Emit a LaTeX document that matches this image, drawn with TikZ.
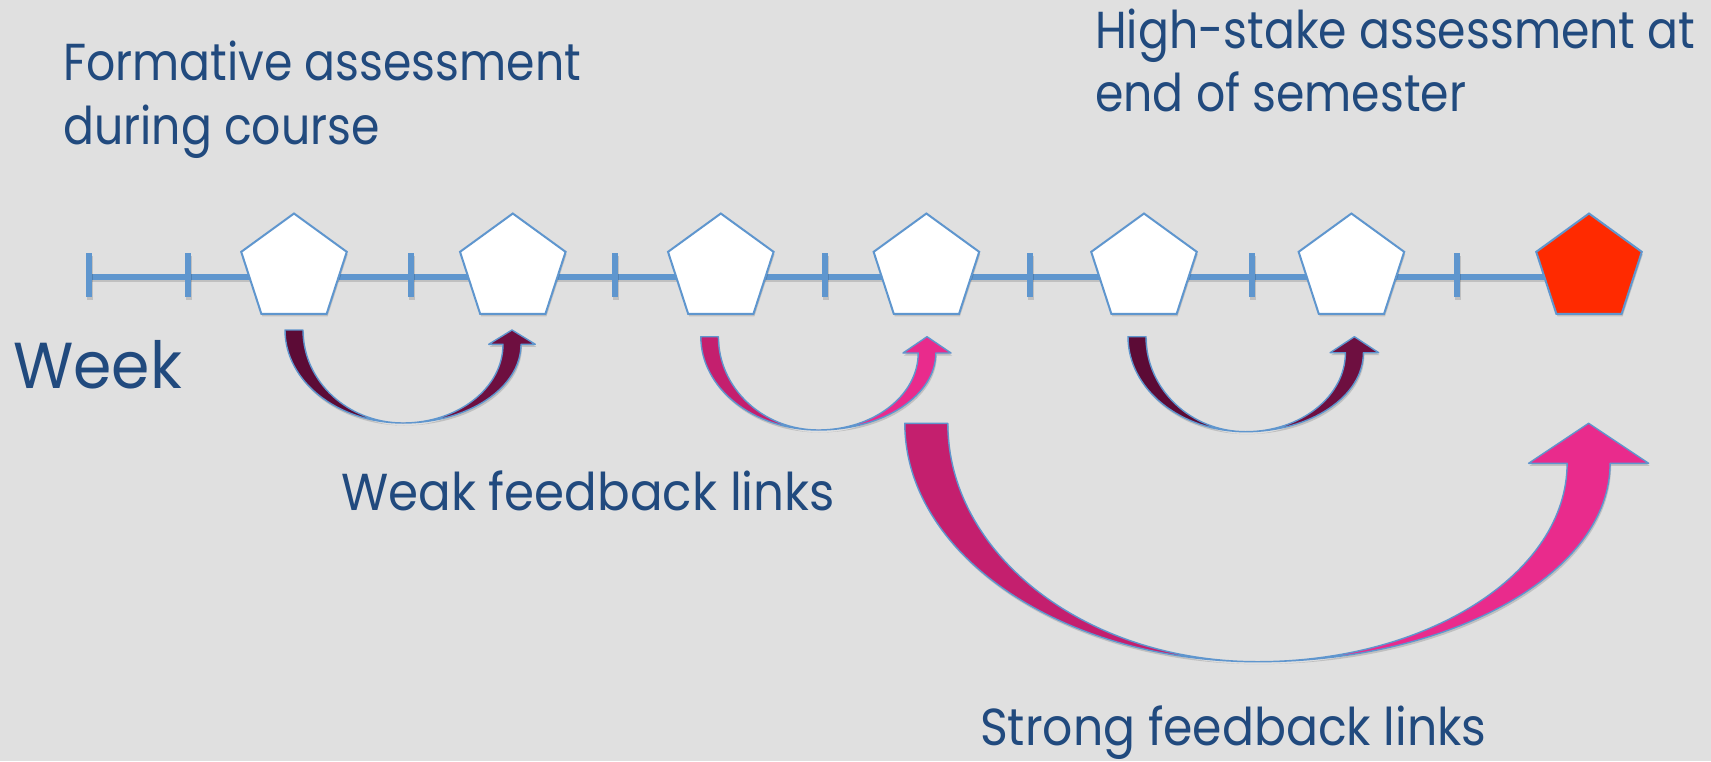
\documentclass[tikz,border=0pt]{standalone}
\usepackage{fontspec}
\usepackage{graphicx}
\setmainfont{Poppins}
\usetikzlibrary{shapes.geometric,shadows,calc}

\definecolor{bgGray}{HTML}{E0E0E0}
\definecolor{lineBlue}{HTML}{5F96CE}
\definecolor{textBlue}{HTML}{214A7E}
\definecolor{plumDark}{HTML}{5C0B36}
\definecolor{plumLight}{HTML}{6E0F40}
\definecolor{pinkDark}{HTML}{C41F6E}
\definecolor{pinkLight}{HTML}{E92B8C}
\definecolor{endRed}{HTML}{FF2A00}

\newcommand{\sqz}[2][0.88]{\scalebox{#1}[1]{#2}}

\tikzset{
  soft shadow/.style={drop shadow={shadow xshift=1pt, shadow yshift=-2.5pt, opacity=0.14, fill=black}},
  pent/.style={regular polygon, regular polygon sides=5, minimum size=111pt, inner sep=0pt,
    draw=lineBlue, line width=2pt, fill=white, soft shadow},
  caption/.style={text=textBlue, inner sep=0pt, anchor=base west, font=\fontsize{52}{64}\selectfont},
}

% curved feedback arrow: #1,#2 tail top centre, #3 span to tip, #4 depth,
% #5 shaft width, #6 head half width, #7 head length, #8 back colour, #9 front colour
\newcommand{\fbarrow}[9]{%
  \pgfmathsetmacro{\hw}{#5/2}
  \pgfmathsetmacro{\mx}{#3/2}
  \pgfmathsetmacro{\ko}{0.552*(\mx+\hw)}
  \pgfmathsetmacro{\ki}{0.552*(\mx-\hw)}
  \pgfmathsetmacro{\kl}{0.552*#4}
  \pgfmathsetmacro{\kr}{#7+0.552*(#4-#7)}
  \begin{scope}[shift={(#1,#2)}]
    \path[soft shadow] (-\hw,0) .. controls (-\hw,\kl) and (\mx-\ko,#4) .. (\mx,#4)
      .. controls (\mx+\ko,#4) and (#3+\hw,\kr) .. (#3+\hw,#7) -- (#3+#6,#7) -- (#3,0)
      -- (#3-#6,#7) -- (#3-\hw,#7) .. controls (#3-\hw,\kr) and (\mx+\ki,#4) .. (\mx,#4)
      .. controls (\mx-\ki,#4) and (\hw,\kl) .. (\hw,0) -- cycle;
    % back half
    \fill[#8] (-\hw,0) .. controls (-\hw,\kl) and (\mx-\ko,#4) .. (\mx,#4)
      .. controls (\mx-\ki,#4) and (\hw,\kl) .. (\hw,0) -- cycle;
    % front half with head
    \fill[#9] (\mx,#4) .. controls (\mx+\ko,#4) and (#3+\hw,\kr) .. (#3+\hw,#7)
      -- (#3+#6,#7) -- (#3,0) -- (#3-#6,#7) -- (#3-\hw,#7)
      .. controls (#3-\hw,\kr) and (\mx+\ki,#4) .. (\mx,#4) -- cycle;
    % outline
    \draw[lineBlue, line width=1.4pt, line join=round] (-\hw,0) .. controls (-\hw,\kl) and (\mx-\ko,#4) .. (\mx,#4)
      .. controls (\mx+\ko,#4) and (#3+\hw,\kr) .. (#3+\hw,#7) -- (#3+#6,#7) -- (#3,0)
      -- (#3-#6,#7) -- (#3-\hw,#7) .. controls (#3-\hw,\kr) and (\mx+\ki,#4) .. (\mx,#4)
      .. controls (\mx-\ki,#4) and (\hw,\kl) .. (\hw,0) -- cycle;
  \end{scope}}

\begin{document}
\begin{tikzpicture}[x=1pt,y=-1pt]
    \useasboundingbox (0,0) rectangle (1711,761);
    \fill[bgGray] (0,0) rectangle (1711,761);

    % Time line with week ticks
    \fill[lineBlue, soft shadow] (89,273.7) rectangle (1589,279.7);
    \foreach \x in {89,187.5,410.6,615,825.3,1029.8,1252,1456.8} {
        \fill[lineBlue, soft shadow] (\x-3,253) rectangle (\x+3,297);
    }

    % Assessments
    \node[pent] (p1) at (294,269) {};
    \node[pent] (p2) at (512.8,269) {};
    \node[pent] (p3) at (720.8,269) {};
    \node[pent] (p4) at (926.4,269) {};
    \node[pent] (p5) at (1144,269) {};
    \node[pent] (p6) at (1351.4,269) {};
    \node[pent, fill=endRed] (pend) at (1589,269) {};

    % Weak feedback links
    \fbarrow{294}{330}{218}{93}{18}{23.3}{14.3}{plumDark}{plumLight}
    \fbarrow{709.6}{336.7}{217.4}{93.3}{17.6}{24}{16.3}{pinkDark}{pinkLight}
    \fbarrow{1137}{336.7}{217.4}{95}{18}{24.3}{16}{plumDark}{plumLight}

    % Strong feedback link
    \fbarrow{926.3}{423.3}{662.3}{238.4}{43}{60}{40}{pinkDark}{pinkLight}

    % Labels
    \node[caption] (formA) at (63,80) {\sqz{Formative assessment}};
    \node[caption] (formB) at ($(formA.base west)+(0,64)$) {\sqz{during course}};
    \node[caption] (highA) at (1095,48.3) {\sqz{High-stake assessment at}};
    \node[caption] (highB) at ($(highA.base west)+(0,63.4)$) {\sqz{end of semester}};
    \node[caption, font=\fontsize{65}{80}\selectfont] (week) at (13,388.3) {\sqz[0.95]{Week}};
    \node[caption] (weak) at (341,510) {\sqz[0.93]{Weak feedback links}};
    \node[caption] (strong) at (980,745) {\sqz[0.91]{Strong feedback links}};
\end{tikzpicture}
\end{document}
